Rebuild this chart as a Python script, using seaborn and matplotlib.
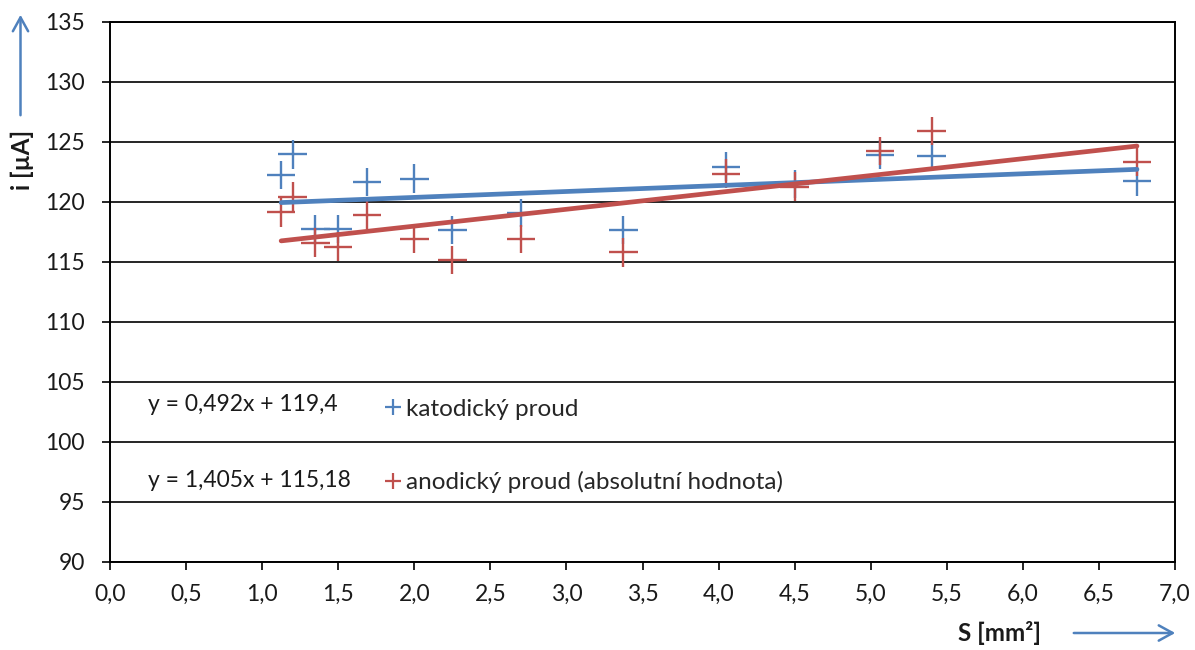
import matplotlib
matplotlib.use("Agg")
import matplotlib.pyplot as plt
from matplotlib.lines import Line2D
from matplotlib.patches import FancyArrowPatch
import pandas as pd
import seaborn as sns

# electrode area S [mm^2]
area = [1.125, 1.2, 1.35, 1.5, 1.6875, 2.0, 2.25, 2.7, 3.375, 4.05, 4.5, 5.0625, 5.4, 6.75]
# measured currents i [uA]
cathodic = [122.25, 123.97, 117.75, 117.75, 121.67, 121.94, 117.67, 119.1, 117.67,
            122.94, 121.5, 123.94, 123.83, 121.72]
anodic = [119.14, 120.44, 116.61, 116.28, 118.92, 116.92, 115.17, 116.92, 115.8,
          122.36, 121.28, 124.25, 125.92, 123.36]
# linear trend coefficients (slope, intercept)
fit_cathodic = (0.492, 119.4)
fit_anodic = (1.405, 115.18)
series_names = ["katodický proud", "anodický proud (absolutní hodnota)"]
equations = ["y = 0,492x + 119,4", "y = 1,405x + 115,18"]
x_ticks = [0.0, 0.5, 1.0, 1.5, 2.0, 2.5, 3.0, 3.5, 4.0, 4.5, 5.0, 5.5, 6.0, 6.5, 7.0]
y_ticks = [90, 95, 100, 105, 110, 115, 120, 125, 130, 135]

BLUE = "#4F81BD"
RED = "#C0504D"
TEXT = "#1a1a1a"
FS = 17.5

sns.set_theme(style="white")
plt.rcParams["font.family"] = ["Lato", "DejaVu Sans"]

fig = plt.figure(figsize=(11.95, 6.5), dpi=100)
ax = fig.add_axes([110 / 1195, 1 - 562 / 650, 1065 / 1195, 540 / 650])

df = pd.DataFrame({
    "S": area + area,
    "i": cathodic + anodic,
    "series": [series_names[0]] * len(area) + [series_names[1]] * len(area),
})
sns.scatterplot(data=df, x="S", y="i", hue="series", palette=[BLUE, RED],
                marker="+", s=420, linewidth=1.7, legend=False, ax=ax, zorder=3)

# trend lines over the measured range
xs = [min(area), max(area)]
for (k, q), col in zip([fit_cathodic, fit_anodic], [BLUE, RED]):
    sns.lineplot(x=xs, y=[k * x + q for x in xs], color=col, linewidth=3.4,
                 ax=ax, zorder=4)

ax.set_xlim(0, 7)
ax.set_ylim(90, 135)
ax.set_xticks(x_ticks)
ax.set_xticklabels([f"{v:.1f}".replace(".", ",") for v in x_ticks])
ax.set_yticks(y_ticks)
ax.set_yticklabels([str(v) for v in y_ticks])
ax.set_xlabel("")
ax.set_ylabel("")
ax.yaxis.grid(True, color="black", linewidth=1.2)
ax.xaxis.grid(False)
ax.set_axisbelow(True)
for sp in ax.spines.values():
    sp.set_color("black")
    sp.set_linewidth(1.4)
ax.tick_params(axis="both", direction="out", length=6, width=1.2, color="black",
               labelsize=16.5, labelcolor=TEXT, bottom=True, left=True)
ax.tick_params(axis="x", pad=10)
ax.tick_params(axis="y", pad=12)

# equations of the trend lines
for eq, yv in zip(equations, [103.1, 96.8]):
    ax.text(0.25, yv, eq, fontsize=16.5, color=TEXT, va="center", ha="left")

handles = [Line2D([], [], linestyle="none", marker="+", markersize=12,
                  markeredgewidth=1.6, color=c) for c in [BLUE, RED]]
ax.legend(handles, series_names, loc="center left", bbox_to_anchor=(0.2563, 0.2148),
          frameon=False, fontsize=FS, borderpad=0, borderaxespad=0,
          handlelength=0.8, handletextpad=0.15, labelspacing=2.13)

# axis titles with direction arrows
fig.text(22 / 1195, 1 - 160 / 650, "i [µA]", rotation=90, fontsize=FS,
         fontweight="bold", ha="center", va="center", color=TEXT)
fig.text(1000 / 1195, 1 - 633 / 650, "S [mm²]", fontsize=FS,
         fontweight="bold", ha="center", va="center", color=TEXT)

arrow_kw = dict(arrowstyle="->,head_length=1.0,head_width=0.55", mutation_scale=10,
                color=BLUE, linewidth=1.8, transform=fig.transFigure)
fig.patches.append(FancyArrowPatch((20.5 / 1195, 1 - 118 / 650), (20.5 / 1195, 1 - 12 / 650),
                                   **arrow_kw))
fig.patches.append(FancyArrowPatch((1071 / 1195, 1 - 633 / 650), (1178 / 1195, 1 - 633 / 650),
                                   **arrow_kw))

fig.savefig("out.png", dpi=100)
